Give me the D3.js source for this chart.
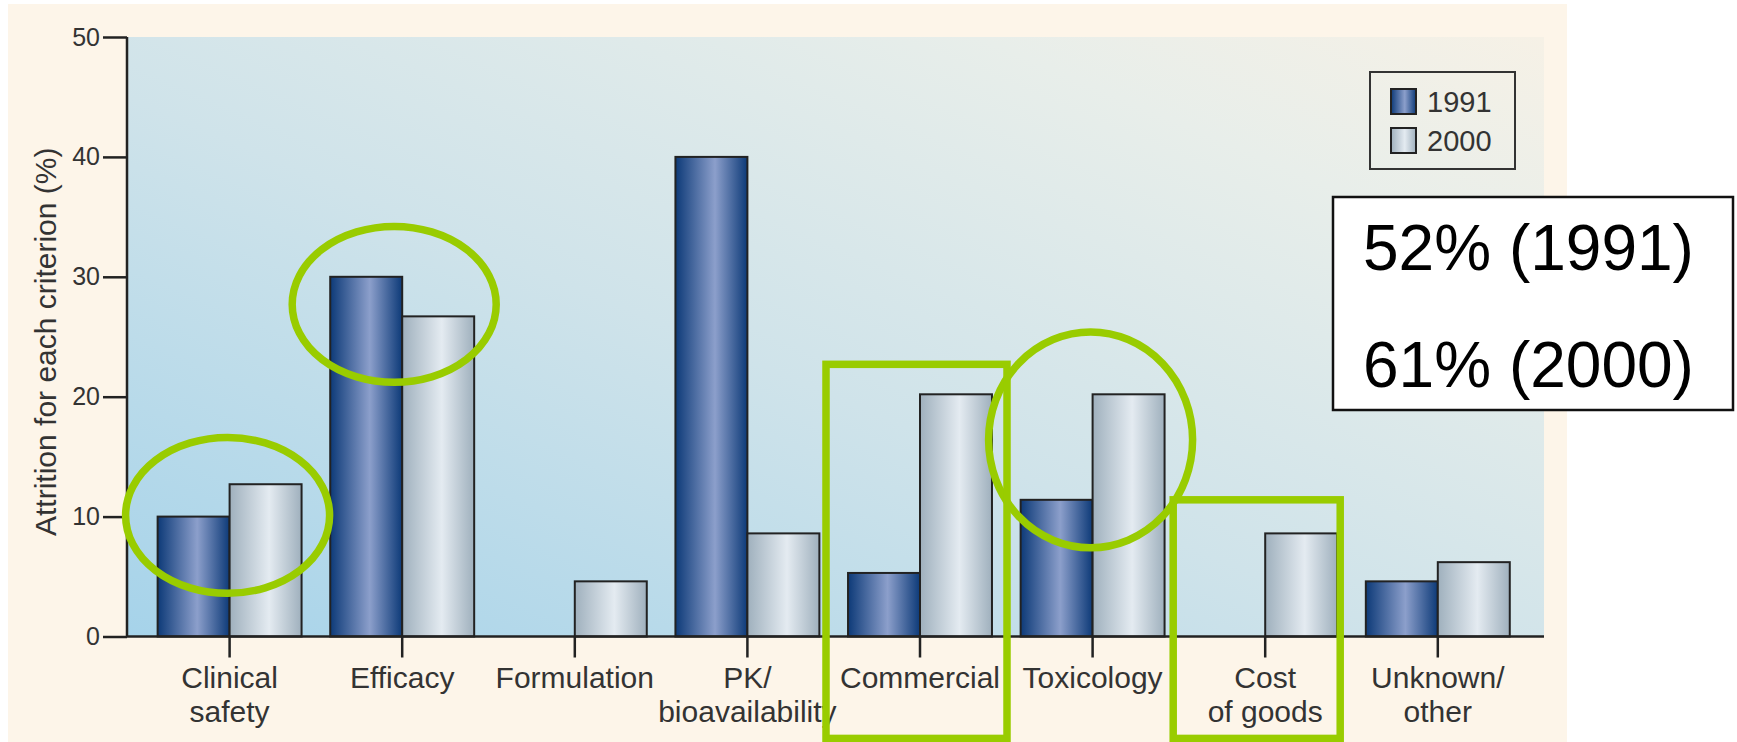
<!DOCTYPE html>
<html>
<head>
<meta charset="utf-8">
<script src="https://cdn.jsdelivr.net/npm/d3@7"></script>
<style>
  body { margin: 0; background: #fff; }
  text { font-family: "Liberation Sans", Arial, Helvetica, sans-serif; }
</style>
</head>
<body>
<div id="chart-container"></div>
<script>
// Data

const categories = ["Clinical safety", "Efficacy", "Formulation", "PK/bioavailability",
  "Commercial", "Toxicology", "Cost of goods", "Unknown/other"];
const labelLines = [["Clinical", "safety"], ["Efficacy"], ["Formulation"], ["PK/", "bioavailability"],
  ["Commercial"], ["Toxicology"], ["Cost", "of goods"], ["Unknown/", "other"]];
const years = ["1991", "2000"];
const values1991 = [10, 30, 0, 40, 5.3, 11.4, 0, 4.6];
const values2000 = [12.7, 26.7, 4.6, 8.6, 20.2, 20.2, 8.6, 6.2];
const yTicks = [0, 10, 20, 30, 40, 50];
const summaryLines = ["52% (1991)", "61% (2000)"];

// green highlights (centre value, half height in value units)
const ellipses = [
  { cat: "Clinical safety", cy: 10.1, ry: 6.5, dx: -2 },
  { cat: "Efficacy", cy: 27.7, ry: 6.5, dx: -8 },
  { cat: "Toxicology", cy: 16.4, ry: 9.0, dx: -2 }
];
const boxes = [
  { cat: "Commercial", top: 22.7, bottom: -8.5, left: -94, right: 87 },
  { cat: "Cost of goods", top: 11.4, bottom: -8.5, left: -92, right: 75 }
];

const W = 1737, H = 742;
const plot = { left: 127, right: 1544, top: 37, bottom: 636.5 };

const svg = d3.select("#chart-container")
  .append("svg")
    .attr("width", W)
    .attr("height", H);

const defs = svg.append("defs");

// plot background gradient
const bg = defs.append("linearGradient")
  .attr("id", "bgGrad")
  .attr("x1", "0%").attr("y1", "100%")
  .attr("x2", "100%").attr("y2", "0%");
bg.append("stop").attr("offset", "0%").attr("stop-color", "#a6d3ea");
bg.append("stop").attr("offset", "45%").attr("stop-color", "#cfe3ea");
bg.append("stop").attr("offset", "80%").attr("stop-color", "#e8eeea");
bg.append("stop").attr("offset", "100%").attr("stop-color", "#f6f1e6");

// bar gradients
function barGrad(id, edge, mid) {
  const g = defs.append("linearGradient").attr("id", id)
    .attr("x1", "0%").attr("x2", "100%").attr("y1", "0%").attr("y2", "0%");
  g.append("stop").attr("offset", "0%").attr("stop-color", edge);
  g.append("stop").attr("offset", "55%").attr("stop-color", mid);
  g.append("stop").attr("offset", "100%").attr("stop-color", edge);
}
barGrad("g1991", "#0d3a78", "#8c9fcb");
barGrad("g2000", "#9fb0bd", "#e4ebf1");

// beige page
svg.append("rect")
  .attr("x", 8).attr("y", 4)
  .attr("width", 1559).attr("height", H - 4)
  .attr("fill", "#fdf5e9");

svg.append("rect")
  .attr("x", plot.left).attr("y", plot.top)
  .attr("width", plot.right - plot.left)
  .attr("height", plot.bottom - plot.top)
  .attr("fill", "url(#bgGrad)");

// scales
const x = d3.scaleBand()
  .domain(categories)
  .range([143.3, 1524.1])
  .paddingInner(0.166)
  .paddingOuter(0.083);

const xSub = d3.scaleBand()
  .domain(years)
  .range([0, x.bandwidth()]);

const y = d3.scaleLinear()
  .domain([0, 50])
  .range([plot.bottom, plot.top]);

const rows = categories.map((c, i) => ({ cat: c, v: [values1991[i], values2000[i]] }));

// bars
const groups = svg.selectAll("g.cat")
  .data(rows)
  .join("g")
  .attr("class", "cat")
  .attr("transform", d => `translate(${x(d.cat)},0)`);

groups.selectAll("rect")
  .data(d => years.map((yr, j) => ({ yr, v: d.v[j] })).filter(e => e.v > 0))
  .join("rect")
  .attr("x", d => xSub(d.yr))
  .attr("y", d => y(d.v))
  .attr("width", xSub.bandwidth())
  .attr("height", d => y(0) - y(d.v))
  .attr("fill", d => `url(#g${d.yr})`)
  .attr("stroke", "#222")
  .attr("stroke-width", 2);

// y axis
const yAxis = svg.append("g")
  .attr("transform", `translate(${plot.left},0)`)
  .call(d3.axisLeft(y).tickValues(yTicks).tickSize(24).tickPadding(3));
yAxis.select(".domain").remove();
yAxis.selectAll("line").attr("stroke", "#222").attr("stroke-width", 2.5);
yAxis.selectAll("text")
  .style("font-size", "25px")
  .style("font-family", "'Liberation Sans', Arial, sans-serif")
  .attr("fill", "#333");

svg.append("line")
  .attr("x1", plot.left).attr("x2", plot.left)
  .attr("y1", plot.top).attr("y2", plot.bottom)
  .attr("stroke", "#222").attr("stroke-width", 2.5);

// x axis
svg.append("line")
  .attr("x1", plot.left).attr("x2", plot.right)
  .attr("y1", plot.bottom).attr("y2", plot.bottom)
  .attr("stroke", "#222").attr("stroke-width", 2.5);

const xAxis = svg.append("g")
  .attr("transform", `translate(0,${plot.bottom})`)
  .call(d3.axisBottom(x).tickSize(21).tickFormat(""));
xAxis.select(".domain").remove();
xAxis.selectAll("line").attr("stroke", "#222").attr("stroke-width", 2.5);

svg.selectAll("text.catlabel")
  .data(categories)
  .join("text")
  .attr("class", "catlabel")
  .attr("x", d => x(d) + x.bandwidth() / 2)
  .attr("y", 688)
  .attr("text-anchor", "middle")
  .style("font-size", "30px")
  .attr("fill", "#333")
  .each(function(d, i) {
    const t = d3.select(this);
    labelLines[i].forEach((line, k) => {
      t.append("tspan")
        .attr("x", x(d) + x.bandwidth() / 2)
        .attr("dy", k === 0 ? 0 : 34)
        .text(line);
    });
  });

// y axis title
svg.append("text")
  .attr("transform", `translate(56,${(plot.top + plot.bottom) / 2 + 5}) rotate(-90)`)
  .attr("text-anchor", "middle")
  .style("font-size", "30px")
  .attr("fill", "#333")
  .text("Attrition for each criterion (%)");

// legend
const legend = svg.append("g").attr("transform", "translate(1370,72)");
legend.append("rect")
  .attr("width", 145).attr("height", 97)
  .attr("fill", "none")
  .attr("stroke", "#333").attr("stroke-width", 2);
years.forEach((yr, j) => {
  legend.append("rect")
    .attr("x", 21).attr("y", 17 + j * 39)
    .attr("width", 25).attr("height", 25)
    .attr("fill", `url(#g${yr})`)
    .attr("stroke", "#222").attr("stroke-width", 2);
  legend.append("text")
    .attr("x", 57).attr("y", 40 + j * 39)
    .style("font-size", "29px")
    .attr("fill", "#333")
    .text(yr);
});

// green highlights
const green = "#99cc00";
svg.selectAll("ellipse.hl")
  .data(ellipses)
  .join("ellipse")
  .attr("class", "hl")
  .attr("cx", d => x(d.cat) + x.bandwidth() / 2 + d.dx)
  .attr("cy", d => y(d.cy))
  .attr("rx", 102)
  .attr("ry", d => y(0) - y(d.ry))
  .attr("fill", "none")
  .attr("stroke", green)
  .attr("stroke-width", 7.5);

svg.selectAll("rect.hl")
  .data(boxes)
  .join("rect")
  .attr("class", "hl")
  .attr("x", d => x(d.cat) + x.bandwidth() / 2 + d.left)
  .attr("y", d => y(d.top))
  .attr("width", d => d.right - d.left)
  .attr("height", d => y(d.bottom) - y(d.top))
  .attr("fill", "none")
  .attr("stroke", green)
  .attr("stroke-width", 7.5);

// summary box
svg.append("rect")
  .attr("x", 1333).attr("y", 197)
  .attr("width", 400).attr("height", 213)
  .attr("fill", "#fff")
  .attr("stroke", "#111").attr("stroke-width", 2.5);

svg.selectAll("text.summary")
  .data(summaryLines)
  .join("text")
  .attr("class", "summary")
  .attr("x", 1363)
  .attr("y", (d, i) => 270 + i * 117)
  .style("font-size", "64px")
  .attr("fill", "#000")
  .text(d => d);
</script>
</body>
</html>
